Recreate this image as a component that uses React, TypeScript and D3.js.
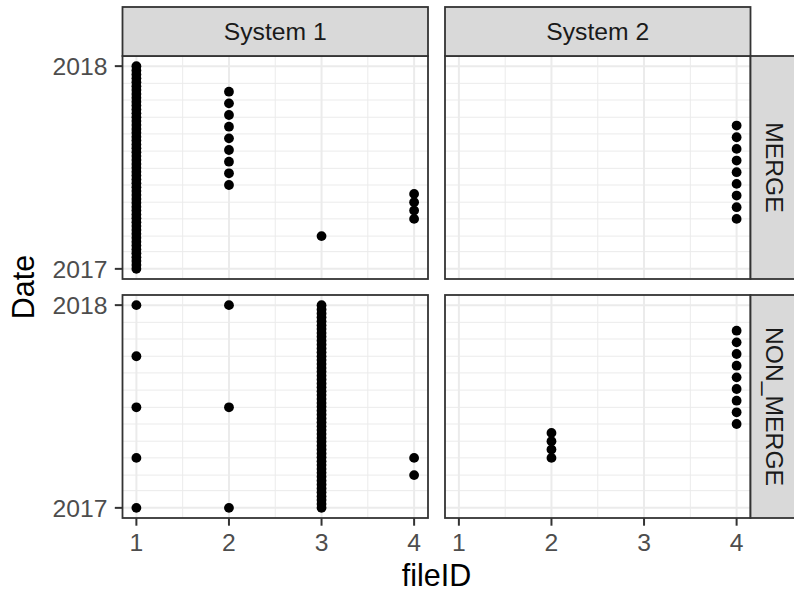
import React from 'react';
import * as d3 from 'd3';

// facet levels
const systems = ['System 1', 'System 2'];
const mergeTypes = ['MERGE', 'NON_MERGE'];
const fileIDTicks = [1, 2, 3, 4];
const yearTicks = ['2017-01-01', '2018-01-01'];

// weekly commits across the whole year (dense columns)
const denseDates = [
  '2017-01-01', '2017-01-08', '2017-01-15', '2017-01-22', '2017-01-29',
  '2017-02-05', '2017-02-12', '2017-02-19', '2017-02-26',
  '2017-03-05', '2017-03-12', '2017-03-19', '2017-03-26',
  '2017-04-02', '2017-04-09', '2017-04-16', '2017-04-23', '2017-04-30',
  '2017-05-07', '2017-05-14', '2017-05-21', '2017-05-28',
  '2017-06-04', '2017-06-11', '2017-06-18', '2017-06-25',
  '2017-07-02', '2017-07-09', '2017-07-16', '2017-07-23', '2017-07-30',
  '2017-08-06', '2017-08-13', '2017-08-20', '2017-08-27',
  '2017-09-03', '2017-09-10', '2017-09-17', '2017-09-24',
  '2017-10-01', '2017-10-08', '2017-10-15', '2017-10-22', '2017-10-29',
  '2017-11-05', '2017-11-12', '2017-11-19', '2017-11-26',
  '2017-12-03', '2017-12-10', '2017-12-17', '2017-12-24', '2018-01-01',
];
// three-weekly runs
const summerDates = [
  '2017-06-01', '2017-06-22', '2017-07-13', '2017-08-03', '2017-08-24',
  '2017-09-14', '2017-10-05', '2017-10-26', '2017-11-16',
];
const springDates = [
  '2017-04-01', '2017-04-22', '2017-05-13', '2017-06-03', '2017-06-24',
  '2017-07-15', '2017-08-05', '2017-08-26', '2017-09-16',
];
// half-monthly runs
const aprMayDates = ['2017-04-01', '2017-04-16', '2017-05-01', '2017-05-16'];
const quarterDates = ['2017-01-01', '2017-04-01', '2017-07-01', '2017-10-01', '2018-01-01'];
const halfYearDates = ['2017-01-01', '2017-07-01', '2018-01-01'];
const marchDate = ['2017-03-01'];
const marAprDates = ['2017-03-01', '2017-04-01'];

// [system, mergeType, fileID, dates]
const series: [string, string, number, string[]][] = [
  ['System 1', 'MERGE', 1, denseDates],
  ['System 1', 'MERGE', 2, summerDates],
  ['System 1', 'MERGE', 3, marchDate],
  ['System 1', 'MERGE', 4, aprMayDates],
  ['System 2', 'MERGE', 4, springDates],
  ['System 1', 'NON_MERGE', 1, quarterDates],
  ['System 1', 'NON_MERGE', 2, halfYearDates],
  ['System 1', 'NON_MERGE', 3, denseDates],
  ['System 1', 'NON_MERGE', 4, marAprDates],
  ['System 2', 'NON_MERGE', 2, aprMayDates],
  ['System 2', 'NON_MERGE', 4, summerDates],
];

const parse = d3.utcParse('%Y-%m-%d');
const points = series.flatMap(([system, type, fileID, dates]) =>
  dates.map(d => ({ system, type, fileID, date: parse(d) as Date }))
);

const FONT = '"Liberation Sans", Arial, sans-serif';
const colX = [122.5, 445];
const rowY = [56, 295];
const panelW = 305.5;
const panelH = 223;
const stripSize = 49;

const App: React.FC = () => {
  const xDomain = [1 - 0.15, 4 + 0.15];
  const d0 = parse('2017-01-01') as Date;
  const d1 = parse('2018-01-01') as Date;
  const span = +d1 - +d0;
  const yDomain = [new Date(+d0 - span * 0.05), new Date(+d1 + span * 0.05)];

  const xScales = colX.map(x0 => d3.scaleLinear().domain(xDomain).range([x0, x0 + panelW]));
  const yScales = rowY.map(y0 => d3.scaleUtc().domain(yDomain).range([y0 + panelH, y0]));

  const majorY = yearTicks.map(d => parse(d) as Date);
  const minorY = d3.utcMonth.range(yDomain[0], yDomain[1]).filter(d => d.getUTCMonth() !== 0);
  const minorX = [1.5, 2.5, 3.5];

  return (
    <svg width={794} height={592} style={{ position: 'absolute', left: 0, top: 0, background: '#fff' }}>
      {systems.map((sys, ci) =>
        mergeTypes.map((mt, ri) => {
          const x = xScales[ci];
          const y = yScales[ri];
          const px = colX[ci];
          const py = rowY[ri];
          return (
            <g key={`${sys}-${mt}`}>
              <rect x={px} y={py} width={panelW} height={panelH} fill="#fff" />
              {minorY.map((d, i) => (
                <line key={`my${i}`} x1={px} x2={px + panelW} y1={y(d)} y2={y(d)} stroke="#EBEBEB" strokeWidth={1} />
              ))}
              {minorX.map(v => (
                <line key={`mx${v}`} x1={x(v)} x2={x(v)} y1={py} y2={py + panelH} stroke="#EBEBEB" strokeWidth={1} />
              ))}
              {majorY.map((d, i) => (
                <line key={`My${i}`} x1={px} x2={px + panelW} y1={y(d)} y2={y(d)} stroke="#EBEBEB" strokeWidth={2} />
              ))}
              {fileIDTicks.map(v => (
                <line key={`Mx${v}`} x1={x(v)} x2={x(v)} y1={py} y2={py + panelH} stroke="#EBEBEB" strokeWidth={2} />
              ))}
              {points
                .filter(p => p.system === sys && p.type === mt)
                .map((p, i) => (
                  <circle key={i} cx={x(p.fileID)} cy={y(p.date)} r={4.9} fill="#000" />
                ))}
              <rect x={px} y={py} width={panelW} height={panelH} fill="none" stroke="#333333" strokeWidth={1.8} />
            </g>
          );
        })
      )}

      {/* top strips */}
      {systems.map((sys, ci) => (
        <g key={sys}>
          <rect x={colX[ci]} y={rowY[0] - stripSize} width={panelW} height={stripSize} fill="#D9D9D9" stroke="#333333" strokeWidth={1.8} />
          <text x={colX[ci] + panelW / 2} y={rowY[0] - stripSize / 2} dy="0.35em" textAnchor="middle"
            fontFamily={FONT} fontSize={24.7} fill="#1A1A1A">{sys}</text>
        </g>
      ))}

      {/* right strips */}
      {mergeTypes.map((mt, ri) => {
        const sx = colX[1] + panelW;
        const cy = rowY[ri] + panelH / 2;
        return (
          <g key={mt}>
            <rect x={sx} y={rowY[ri]} width={stripSize} height={panelH} fill="#D9D9D9" stroke="#333333" strokeWidth={1.8} />
            <text transform={`translate(${sx + stripSize / 2},${cy}) rotate(90)`} dy="0.35em" textAnchor="middle"
              fontFamily={FONT} fontSize={24.7} fill="#1A1A1A">{mt}</text>
          </g>
        );
      })}

      {/* y axes */}
      {mergeTypes.map((mt, ri) => (
        <g key={`ya-${mt}`}>
          {majorY.map((d, i) => (
            <g key={i}>
              <line x1={colX[0] - 7.7} x2={colX[0]} y1={yScales[ri](d)} y2={yScales[ri](d)} stroke="#333333" strokeWidth={2} />
              <text x={colX[0] - 15} y={yScales[ri](d)} dy="0.35em" textAnchor="end"
                fontFamily={FONT} fontSize={24.7} fill="#4D4D4D">{d3.utcFormat('%Y')(d)}</text>
            </g>
          ))}
        </g>
      ))}

      {/* x axes */}
      {systems.map((sys, ci) => (
        <g key={`xa-${sys}`}>
          {fileIDTicks.map(v => (
            <g key={v}>
              <line x1={xScales[ci](v)} x2={xScales[ci](v)} y1={rowY[1] + panelH} y2={rowY[1] + panelH + 7.7} stroke="#333333" strokeWidth={2} />
              <text x={xScales[ci](v)} y={rowY[1] + panelH + 33} textAnchor="middle"
                fontFamily={FONT} fontSize={24.7} fill="#4D4D4D">{v}</text>
            </g>
          ))}
        </g>
      ))}

      {/* axis titles */}
      <text x={(colX[0] + colX[1] + panelW) / 2} y={585.5} textAnchor="middle" fontFamily={FONT} fontSize={30.5} fill="#000">fileID</text>
      <text transform={`translate(34,${(rowY[0] + rowY[1] + panelH) / 2}) rotate(-90)`} textAnchor="middle"
        fontFamily={FONT} fontSize={30.5} fill="#000">Date</text>
    </svg>
  );
};

export default App;
